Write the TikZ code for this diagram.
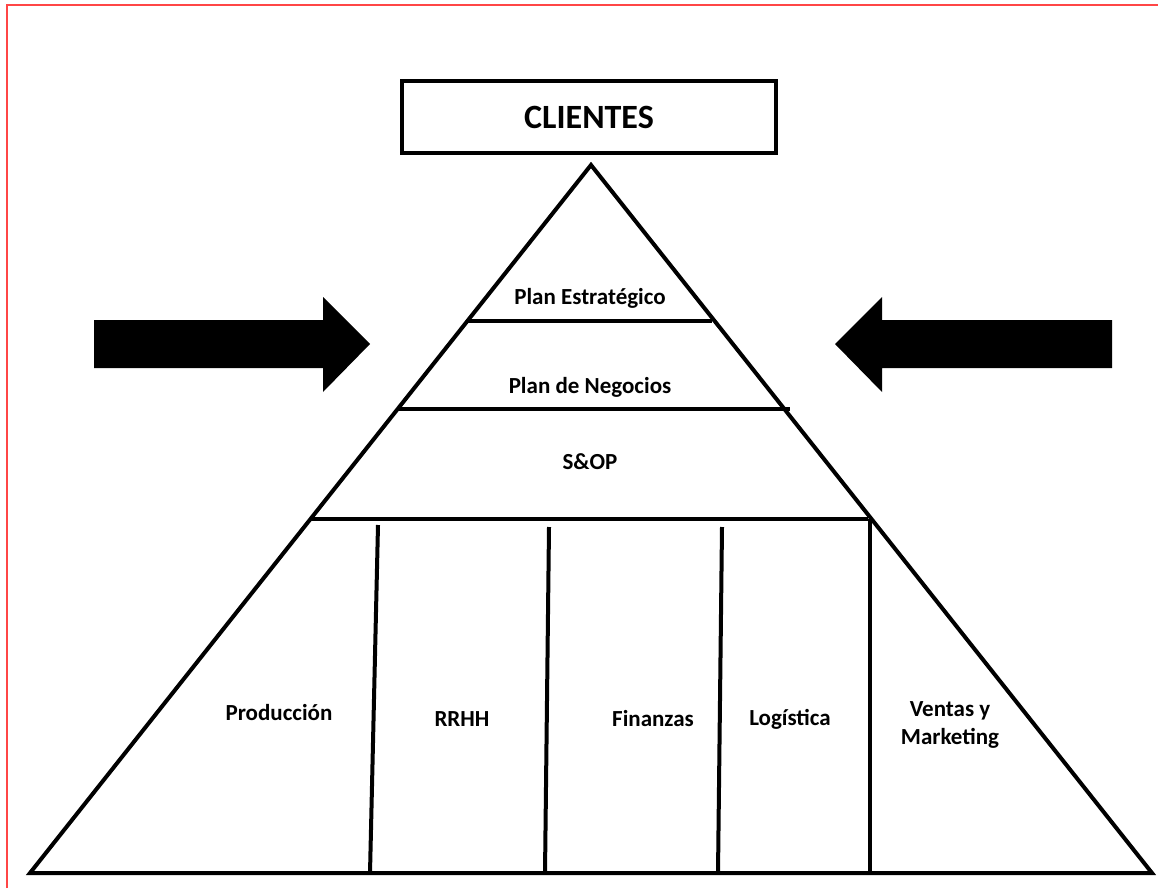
\documentclass[tikz,border=0pt]{standalone}
\usepackage{fontspec}
\setmainfont{Carlito}
\definecolor{framered}{RGB}{255,70,70}

\begin{document}
\begin{tikzpicture}[x=1pt,y=-1pt,line width=4pt,
    clientbox/.style={draw,rectangle,minimum width=374pt,minimum height=72pt,
      font=\fontsize{34}{40}\selectfont\bfseries},
    lbl/.style={font=\fontsize{23}{28}\selectfont\bfseries,align=center}]

        \useasboundingbox (0,0) rectangle (1158,888);
        \draw[framered,line width=2.5pt] (7,888) -- (7,5) -- (1158,5);

        % pyramid corners
        \coordinate (top) at (591,165);
        \coordinate (bl)  at (30,873);
        \coordinate (br)  at (1152,873);
        \draw[line join=miter] (top) -- (bl) -- (br) -- cycle;

        % levels
        \coordinate (e1) at (467,321);
        \coordinate (e2) at (712,321);
        \coordinate (n1) at (398,409);
        \coordinate (n2) at (790,409);
        \coordinate (s1) at (311,519);
        \coordinate (s2) at (868,519);
        \draw (e1) -- (e2);
        \draw (n1) -- (n2);
        \draw (s1) -- (s2);

        % columns
        \coordinate (c1t) at (378,525);
        \coordinate (c1b) at (370,873);
        \coordinate (c2t) at (549,527);
        \coordinate (c2b) at (545,873);
        \coordinate (c3t) at (722,527);
        \coordinate (c3b) at (718,873);
        \coordinate (c4t) at (870,519);
        \coordinate (c4b) at (870,873);
        \draw (c1t) -- (c1b);
        \draw (c2t) -- (c2b);
        \draw (c3t) -- (c3b);
        \draw (c4t) -- (c4b);

        \node[clientbox] (clientes) at (589,117) {CLIENTES};

        \node[lbl] (estrategico) at (590,298) {Plan Estratégico};
        \node[lbl] (negocios)    at (590,387) {Plan de Negocios};
        \node[lbl] (sop)         at (590,462) {S\&OP};
        \node[lbl] (produccion)  at (279,713) {Producción};
        \node[lbl] (rrhh)        at (462,719) {RRHH};
        \node[lbl] (finanzas)    at (653,719) {Finanzas};
        \node[lbl] (logistica)   at (790,719) {Logística};
        \node[lbl] (ventas)      at (950,725) {Ventas y\\Marketing};

        % side arrows
        \fill (94,320) -- (323,320) -- (323,297) -- (370,344) -- (323,392)
          -- (323,368) -- (94,368) -- cycle;
        \fill (1112,320) -- (882,320) -- (882,297) -- (835,344) -- (882,392)
          -- (882,368) -- (1112,368) -- cycle;

\end{tikzpicture}
\end{document}
